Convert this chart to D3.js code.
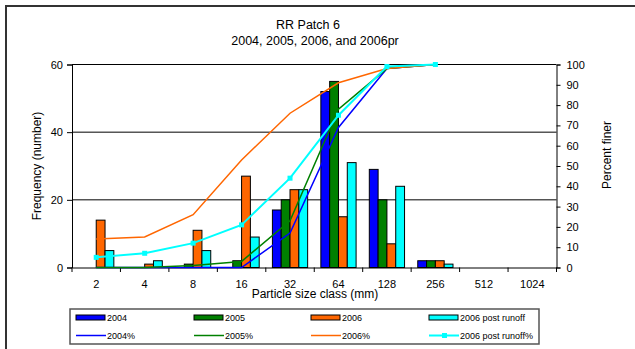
<!DOCTYPE html>
<html><head><meta charset="utf-8">
<script src="https://cdn.jsdelivr.net/npm/d3@7"></script>
<style>
html,body{margin:0;padding:0;background:#fff;}
svg{display:block;font-family:"Liberation Sans",Arial,sans-serif;}
</style></head>
<body>
<svg id="chart" width="635" height="349"></svg>
<script>
const categories = ["2","4","8","16","32","64","128","256","512","1024"];
const seriesNames = ["2004","2005","2006","2006 post runoff"];
const freq2004 = [0,0,0,0,17,52,29,2,0,0];
const freq2005 = [0,0,1,2,20,55,20,2,0,0];
const freq2006 = [14,1,11,27,23,15,7,2,0,0];
const freq2006pr = [5,2,5,9,23,31,24,1,0,0];
const pct2004 = [0,0,0,0,17,69,98,100];
const pct2005 = [0,0,1,3,23,78,98,100];
const pct2006 = [14,15,26,53,76,91,98,100];
const pct2006pr = [5,7,12,21,44,75,99,100];
const leftTicks = [0,20,40,60];
const rightTicks = [0,10,20,30,40,50,60,70,80,90,100];
const colors = ["#0000FF","#008000","#FF6600","#00FFFF"];

const svg = d3.select("#chart");
svg.append("rect").attr("width",635).attr("height",349).attr("fill","#fff");
svg.append("rect").attr("x",6).attr("y",6).attr("width",700).attr("height",400)
  .attr("fill","none").attr("stroke","#333").attr("stroke-width",2);

const L=72, R=556.5, T=64.5, B=267.5;
const x0 = d3.scaleBand().domain(categories).range([L,R]).padding(0);
const x1 = d3.scaleBand().domain(seriesNames).range([0,x0.bandwidth()]).paddingInner(0).paddingOuter(0.75);
const yL = d3.scaleLinear().domain([0,60]).range([B,T]);
const yR = d3.scaleLinear().domain([0,100]).range([B,T]);

// gridlines
svg.append("g").selectAll("line").data(leftTicks.filter(d=>d>0)).join("line")
  .attr("x1",L).attr("x2",R).attr("y1",d=>yL(d)).attr("y2",d=>yL(d))
  .attr("stroke","#000").attr("stroke-width",1);

// bars
const freqs = [freq2004,freq2005,freq2006,freq2006pr];
const barData = [];
categories.forEach((c,i)=>{
  seriesNames.forEach((s,j)=>{ barData.push({c, s, v:freqs[j][i], col:colors[j]}); });
});
svg.append("g").selectAll("rect").data(barData.filter(d=>d.v>0)).join("rect")
  .attr("x",d=>x0(d.c)+x1(d.s)).attr("width",x1.bandwidth())
  .attr("y",d=>yL(d.v)).attr("height",d=>yL(0)-yL(d.v))
  .attr("fill",d=>d.col).attr("stroke","#000").attr("stroke-width",1);

// axes
const fs = "11px";
const gL = svg.append("g").attr("transform",`translate(${L},0)`)
  .call(d3.axisLeft(yL).tickValues(leftTicks).tickSize(5).tickPadding(4));
const gR = svg.append("g").attr("transform",`translate(${R},0)`)
  .call(d3.axisRight(yR).tickValues(rightTicks).tickSize(4).tickPadding(6));
[gL,gR].forEach(g=>{
  g.select(".domain").attr("stroke","#000");
  g.selectAll("line").attr("stroke","#000");
  g.selectAll("text").attr("font-size",fs).attr("font-family","Liberation Sans, Arial, sans-serif").attr("fill","#000");
});
const gX = svg.append("g").attr("transform",`translate(0,${B})`)
  .call(d3.axisBottom(x0).tickSize(0).tickPadding(13));
gX.select(".domain").attr("stroke","#000");
gX.selectAll("text").attr("font-size",fs).attr("font-family","Liberation Sans, Arial, sans-serif").attr("fill","#000");
// boundary ticks between categories
const bounds = categories.map(c=>x0(c)).concat([R]);
svg.append("g").selectAll("line").data(bounds).join("line")
  .attr("x1",d=>d).attr("x2",d=>d).attr("y1",B).attr("y2",B+4.5)
  .attr("stroke","#000");

// lines
const pcts = [pct2004,pct2005,pct2006,pct2006pr];
const line = d3.line().x(d=>x0(d.c)+x0.bandwidth()/2).y(d=>yR(d.v));
pcts.forEach((arr,j)=>{
  const pts = arr.map((v,i)=>({c:categories[i], v}));
  svg.append("path").datum(pts).attr("d",line).attr("fill","none")
    .attr("stroke",colors[j]).attr("stroke-width", j===3?2:1.5);
  if(j===3){
    svg.append("g").selectAll("rect").data(pts).join("rect")
      .attr("x",d=>x0(d.c)+x0.bandwidth()/2-2.5).attr("y",d=>yR(d.v)-2.5)
      .attr("width",5).attr("height",5).attr("fill",colors[3]);
  }
});

// titles
svg.append("text").attr("x",308).attr("y",29).attr("text-anchor","middle")
  .attr("font-size","12.5px").text("RR Patch 6");
svg.append("text").attr("x",315).attr("y",44.5).attr("text-anchor","middle")
  .attr("font-size","12.5px").text("2004, 2005, 2006, and 2006pr");
svg.append("text").attr("x",315).attr("y",297.5).attr("text-anchor","middle")
  .attr("font-size","12px").text("Particle size class (mm)");
svg.append("text").attr("transform","translate(40.5,166) rotate(-90)").attr("text-anchor","middle")
  .attr("font-size","12px").text("Frequency (number)");
svg.append("text").attr("transform","translate(611,155) rotate(-90)").attr("text-anchor","middle")
  .attr("font-size","12px").text("Percent finer");

// legend
const lg = svg.append("g");
lg.append("rect").attr("x",70).attr("y",309).attr("width",469).attr("height",35)
  .attr("fill","#fff").attr("stroke","#555").attr("stroke-width",1.5);
const colX = [76,194,311,429];
seriesNames.forEach((s,j)=>{
  lg.append("rect").attr("x",colX[j]).attr("y",315).attr("width",29).attr("height",5)
    .attr("fill",colors[j]).attr("stroke","#000").attr("stroke-width",1);
  lg.append("text").attr("x",colX[j]+31).attr("y",321).attr("font-size","9px").text(s);
  lg.append("line").attr("x1",colX[j]).attr("x2",colX[j]+30).attr("y1",335.5).attr("y2",335.5)
    .attr("stroke",colors[j]).attr("stroke-width", j===3?2:1.5);
  if(j===3){
    lg.append("rect").attr("x",colX[j]+13).attr("y",333).attr("width",5).attr("height",5).attr("fill",colors[3]);
  }
  lg.append("text").attr("x",colX[j]+31).attr("y",339).attr("font-size","9px").text(s+"%");
});
</script>
</body></html>
